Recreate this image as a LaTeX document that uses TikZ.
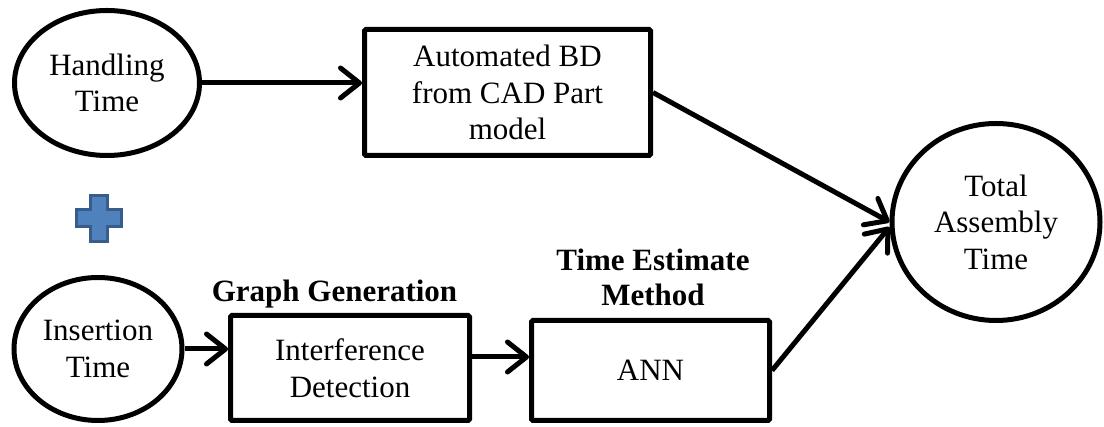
\documentclass[tikz,border=0pt]{standalone}
\usepackage{fontspec}
\setmainfont{Liberation Serif}
\usetikzlibrary{shapes.geometric,arrows.meta}
\definecolor{plusfill}{HTML}{4F81BD}
\definecolor{plusedge}{HTML}{385D8A}
\tikzset{
  every node/.style={font=\fontsize{31}{36.5}\selectfont, align=center, inner sep=0pt},
  oval/.style={ellipse, draw, line width=5pt},
  block/.style={rectangle, draw, line width=5pt, rounded corners=1.5pt},
  heading/.style={font=\fontsize{31}{35}\selectfont\bfseries},
  arr/.style={line width=5pt, -{Straight Barb[length=19pt,width=30pt,round]}}
}
\begin{document}
\begin{tikzpicture}[x=1pt,y=1pt]
\useasboundingbox (0,0) rectangle (1104,427);

% inputs
\node[oval, minimum width=185pt, minimum height=145pt] (handling) at (107,344) {Handling\\Time};
\node[oval, minimum width=168pt, minimum height=143pt] (insertion) at (98,78) {Insertion\\Time};

% processing blocks
\node[block, minimum width=286pt, minimum height=126pt] (auto) at (507.5,334.5) {Automated BD\\from CAD Part\\model};
\node[block, minimum width=239pt, minimum height=105pt] (inter) at (350,59) {Interference\\Detection};
\node[block, minimum width=238pt, minimum height=100pt] (ann) at (650.5,56.5) {ANN};

% block headings
\node[heading, anchor=base] (gghead) at (334.5,125) {Graph Generation};
\node[heading] (tehead) at (653,149.5) {Time Estimate\\Method};

% result
\node[oval, minimum width=208pt, minimum height=197pt] (total) at (996,205) {Total\\Assembly\\Time};

% plus sign between the two inputs
\draw[plusedge, fill=plusfill, line width=2.5pt]
  (90.5,231.5) -- (107.5,231.5) -- (107.5,217.5) -- (121.5,217.5) -- (121.5,200.5)
  -- (107.5,200.5) -- (107.5,185.5) -- (90.5,185.5) -- (90.5,200.5) -- (76.5,200.5)
  -- (76.5,217.5) -- (90.5,217.5) -- cycle;

% connectors
\draw[arr] (handling.east) -- (handling.east -| auto.west);
\draw[arr] (insertion.east) -- (insertion.east -| inter.west);
\draw[arr] ([yshift=11pt]inter.east) -- ([yshift=11pt]inter.east -| ann.west);
\draw[arr] (auto.east) -- (total.west);
\draw[arr] (ann.east) -- ([yshift=-5pt]total.west);
\end{tikzpicture}
\end{document}
